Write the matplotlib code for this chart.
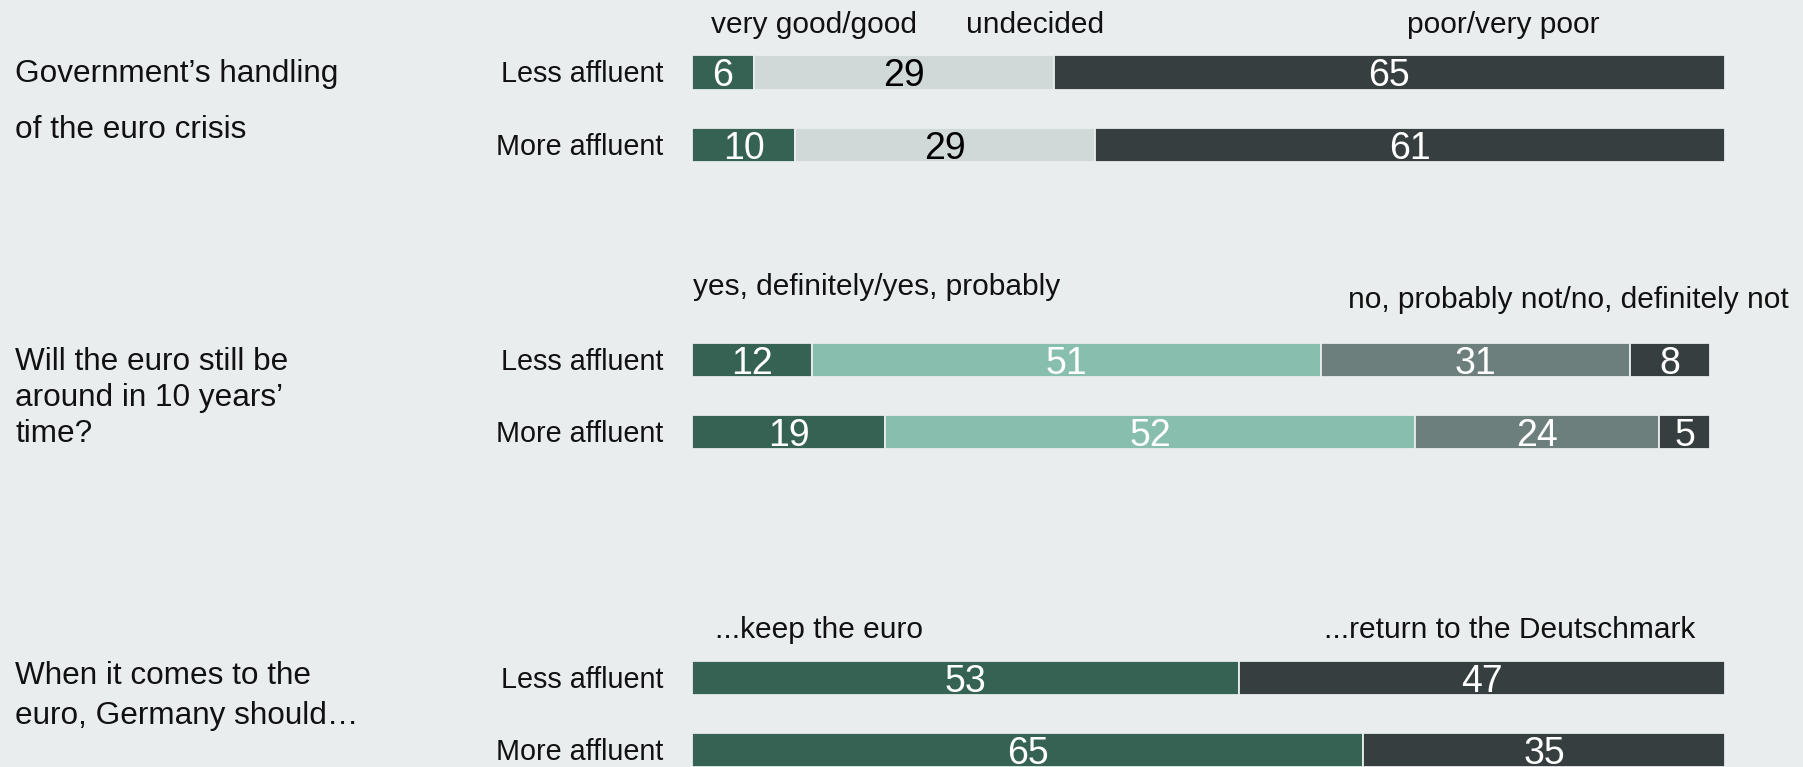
import matplotlib
matplotlib.use("Agg")
import matplotlib.pyplot as plt
from matplotlib import font_manager

# ---------------- data ----------------
groups = ["Less affluent", "More affluent"]

q1_title = ["Government\u2019s handling", "of the euro crisis"]
q1_cats = ["very good/good", "undecided", "poor/very poor"]
q1_less = [6, 29, 65]
q1_more = [10, 29, 61]

q2_title = ["Will the euro still be", "around in 10 years\u2019", "time?"]
q2_heads = ["yes, definitely/yes, probably", "no, probably not/no, definitely not"]
q2_less = [12, 51, 31, 8]
q2_more = [19, 52, 24, 5]

q3_title = ["When it comes to the", "euro, Germany should\u2026"]
q3_cats = ["...keep the euro", "...return to the Deutschmark"]
q3_less = [53, 47]
q3_more = [65, 35]

# ---------------- style ----------------
BG = "#E9EDEE"
DKGREEN = "#366253"
LTGREY = "#D0D9D8"
CHARCOAL = "#363E40"
TEAL = "#88BEAD"
MIDGREY = "#6D7F7D"
FONT = ["Liberation Sans", "DejaVu Sans"]
installed = {f.name for f in font_manager.fontManager.ttflist}
NUMFONT = ["Liberation Sans Narrow"] + FONT if "Liberation Sans Narrow" in installed else FONT
NUMSIZE = 29 if "Liberation Sans Narrow" in installed else 27

W, H = 1803, 767
fig = plt.figure(figsize=(W / 100, H / 100), dpi=100, facecolor=BG)


def fx(px):
    return px / W


def fy(py):
    return 1 - py / H


def section(left_px, right_px, row_centers, rows, colors, txtcolors):
    gap = row_centers[1] - row_centers[0]
    top = row_centers[0] - gap / 2
    bot = row_centers[1] + gap / 2
    ax = fig.add_axes([fx(left_px), fy(bot), fx(right_px - left_px), (bot - top) / H])
    ax.set_facecolor("none")
    ax.set_xlim(0, 100)
    ax.set_ylim(1.5, -0.5)
    ax.axis("off")
    for r, vals in enumerate(rows):
        total = float(sum(vals))
        left = 0.0
        for v, c, tc in zip(vals, colors, txtcolors):
            w = v / total * 100
            ax.barh(r, w, left=left, height=0.47, color=c, edgecolor=BG, linewidth=1.3)
            ax.text(left + w / 2, r + 0.05, str(v), ha="center", va="center",
                    color=tc, fontsize=NUMSIZE, family=NUMFONT)
            left += w
    return ax


section(692, 1725, (72.5, 145), [q1_less, q1_more],
        [DKGREEN, LTGREY, CHARCOAL], ["white", "black", "white"])
section(692, 1710, (360, 432), [q2_less, q2_more],
        [DKGREEN, TEAL, MIDGREY, CHARCOAL], ["white", "white", "white", "white"])
section(692, 1725, (678, 750), [q3_less, q3_more],
        [DKGREEN, CHARCOAL], ["white", "white"])

ROW = dict(fontsize=20.7, family=FONT, color="#111111")
HEAD = dict(fontsize=21.5, family=FONT, color="#111111")
QT = dict(fontsize=22.7, family=FONT, color="#111111")

# row labels
for centers in [(72.5, 145), (360, 432), (678, 750)]:
    for g, cy in zip(groups, centers):
        fig.text(fx(663), fy(cy + 2), g, ha="right", va="center", **ROW)

# question titles
for line, cy in zip(q1_title, (74, 130)):
    fig.text(fx(15), fy(cy), line, ha="left", va="center", **QT)
for line, cy in zip(q2_title, (362, 398, 434)):
    fig.text(fx(15), fy(cy), line, ha="left", va="center", **QT)
for line, cy in zip(q3_title, (676, 716)):
    fig.text(fx(15), fy(cy), line, ha="left", va="center", **QT)

# header category labels
for t, cx in zip(q1_cats, (814, 1035, 1503)):
    fig.text(fx(cx), fy(25), t, ha="center", va="center", **HEAD)
for t, cx, cy in zip(q2_heads, (877, 1568), (287, 300)):
    fig.text(fx(cx), fy(cy), t, ha="center", va="center", **HEAD)
for t, cx in zip(q3_cats, (819, 1510)):
    fig.text(fx(cx), fy(630), t, ha="center", va="center", **HEAD)

fig.savefig("out.png", dpi=100, facecolor=BG)
